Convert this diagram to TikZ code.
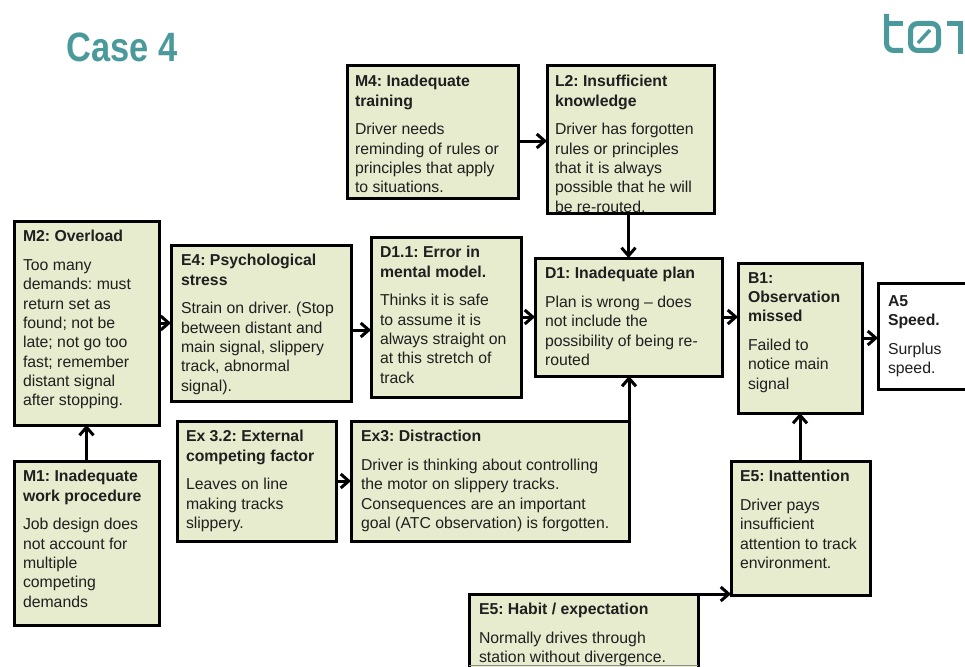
\documentclass[tikz,border=0pt]{standalone}
\usepackage{fontspec}
\usetikzlibrary{arrows.meta}
\setmainfont{Liberation Sans}
\newfontfamily\casefont[FakeStretch=0.84]{Liberation Sans}
\definecolor{boxgreen}{HTML}{E6ECCD}
\definecolor{toiteal}{HTML}{4A9A9C}
\tikzset{
  cause/.style={draw,line width=3pt,fill=boxgreen,anchor=north west,align=left,inner sep=0pt,outer sep=0pt,
    text=black!88,font=\fontsize{15.8}{19.3}\selectfont\frenchspacing},
  causetext/.style={cause,draw=none,fill=none,yshift=-9.5pt},
  link/.style={-{Straight Barb[length=8pt,width=14pt]},line width=3pt,black},
  logo/.style={line width=5pt,toiteal}
}
\begin{document}
\begin{tikzpicture}[x=1pt,y=-1pt]
  \useasboundingbox (0,0) rectangle (965,666);
  \clip (0,0) rectangle (965,666);
  \node [anchor=base west,text=toiteal,font=\casefont\bfseries\fontsize{41}{41}\selectfont,inner sep=0pt] (casetitle) at (66,62) {Case 4};
  % logo
  \draw [logo,rounded corners=7pt] (886.5,14) -- (886.5,50.5) -- (903,50.5);
  \draw [logo] (886.5,23.5) -- (903,23.5);
  \draw [logo,rounded corners=7pt] (910.5,23.5) rectangle (938.5,50.5);
  \draw [logo,line width=3.5pt] (918,43) -- (930,30);
  \draw [logo] (947,23.5) -- (960,23.5) -- (960,54);
  % boxes
  \node [cause,minimum width=171pt,minimum height=132pt] (m4) at (347,66) {};
  \node [cause,minimum width=167pt,minimum height=147pt] (l2) at (547,66) {};
  \node [cause,minimum width=145pt,minimum height=204pt] (m2) at (14,221) {};
  \node [cause,minimum width=180pt,minimum height=156pt] (e4) at (171,245) {};
  \node [cause,minimum width=150pt,minimum height=160pt] (d11) at (371,237) {};
  \node [cause,minimum width=187pt,minimum height=118pt] (d1) at (535,258) {};
  \node [cause,minimum width=124pt,minimum height=150pt] (b1) at (738,263) {};
  \node [cause,fill=white,minimum width=100pt,minimum height=106pt] (a5) at (878,283) {};
  \node [cause,minimum width=145pt,minimum height=164pt] (m1) at (14,461) {};
  \node [cause,minimum width=159pt,minimum height=120pt] (ex32) at (177,421) {};
  \node [cause,minimum width=278pt,minimum height=120pt] (ex3) at (351,421) {};
  \node [cause,minimum width=139pt,minimum height=134pt] (e5in) at (731,461) {};
  \node [cause,minimum width=229pt,minimum height=76pt] (e5ha) at (469,594) {};
  \draw [black!45,line width=.8pt] (469,665.5) -- (698,665.5);
  % texts
  \node [causetext,xshift=8pt] (m4t) at (m4.north west) {\textbf{M4: Inadequate}\\\textbf{training}\\[9.4pt]Driver needs\\reminding of rules or\\principles that apply\\to situations.};
  \node [causetext,xshift=8pt] (l2t) at (l2.north west) {\textbf{L2: Insufficient}\\\textbf{knowledge}\\[9.4pt]Driver has forgotten\\rules or principles\\that it is always\\possible that he will\\be re-routed.};
  \node [causetext,xshift=9pt] (m2t) at (m2.north west) {\textbf{M2: Overload}\\[9.4pt]Too many\\demands: must\\return set as\\found; not be\\late; not go too\\fast; remember\\distant signal\\after stopping.};
  \node [causetext,xshift=10pt] (e4t) at (e4.north west) {\textbf{E4: Psychological}\\\textbf{stress}\\[9.4pt]Strain on driver. (Stop\\between distant and\\main signal, slippery\\track, abnormal\\signal).};
  \node [causetext,xshift=9pt] (d11t) at (d11.north west) {\textbf{D1.1: Error in}\\\textbf{mental model.}\\[9.4pt]Thinks it  is safe\\to assume it is\\always straight on\\at this stretch of\\track};
  \node [causetext,xshift=10pt] (d1t) at (d1.north west) {\textbf{D1: Inadequate plan}\\[9.4pt]Plan is wrong – does\\not include the\\possibility of being re-\\routed};
  \node [causetext,xshift=10pt] (b1t) at (b1.north west) {\textbf{B1:}\\\textbf{Observation}\\\textbf{missed}\\[9.4pt]Failed to\\notice main\\signal};
  \node [causetext,xshift=10pt,yshift=-3pt] (a5t) at (a5.north west) {\textbf{A5}\\\textbf{Speed.}\\[9.4pt]Surplus\\speed.};
  \node [causetext,xshift=9pt] (m1t) at (m1.north west) {\textbf{M1: Inadequate}\\\textbf{work procedure}\\[9.4pt]Job design does\\not account for\\multiple\\competing\\demands};
  \node [causetext,xshift=9pt] (ex32t) at (ex32.north west) {\textbf{Ex 3.2: External}\\\textbf{competing factor}\\[9.4pt]Leaves on line\\making tracks\\slippery.};
  \node [causetext,xshift=10pt] (ex3t) at (ex3.north west) {\textbf{Ex3: Distraction}\\[9.4pt]Driver is thinking about controlling\\the motor on slippery tracks.\\Consequences are an important\\goal (ATC observation) is forgotten.};
  \node [causetext,xshift=9pt] (e5int) at (e5in.north west) {\textbf{E5: Inattention}\\[9.4pt]Driver pays\\insufficient\\attention to track\\environment.};
  \node [causetext,xshift=10pt] (e5hat) at (e5ha.north west) {\textbf{E5: Habit / expectation}\\[9.4pt]Normally drives through\\station without divergence.};
  % arrows
  \draw [link] ([yshift=-9pt]m4.east) -- ([yshift=-1.5pt]l2.west);
  \draw [link] (d1.north |- l2.south) -- (d1.north);
  \draw [link] (m2.east) -- (e4.west);
  \draw [link] ([yshift=-7pt]e4.east) -- ([yshift=-13pt]d11.west);
  \draw [link] (d11.east |- d1.west) -- (d1.west);
  \draw [link] (d1.east) -- (d1.east -| b1.west);
  \draw [link] (b1.east) -- (b1.east -| a5.west);
  \draw [link] (m1.north) -- (m2.south);
  \draw [link] (ex32.east) -- (ex3.west);
  \draw [link] (ex3.north east) -- (ex3.north east |- d1.south);
  \draw [link] (e5in.north -| b1.south) -- (b1.south);
  \draw [link] (e5ha.north east) -- (e5ha.north east -| e5in.west);
\end{tikzpicture}
\end{document}
